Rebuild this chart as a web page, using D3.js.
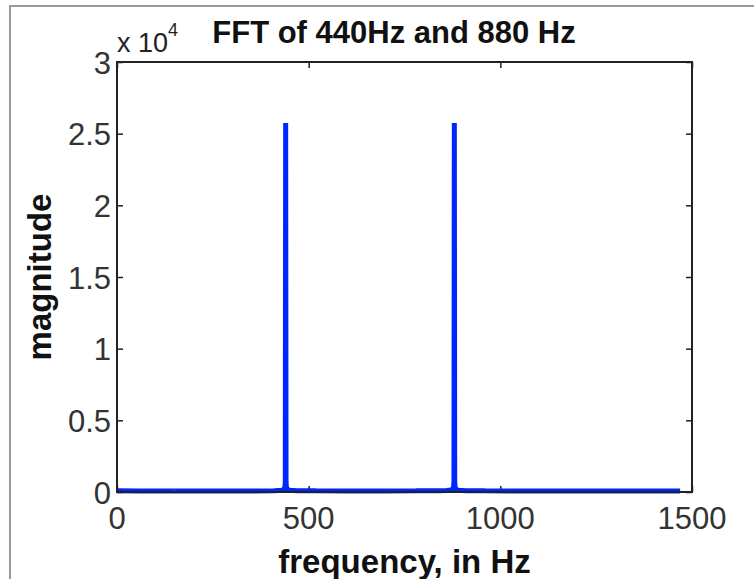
<!DOCTYPE html>
<html>
<head>
<meta charset="utf-8">
<script src="https://cdn.jsdelivr.net/npm/d3@7"></script>
<style>
  html, body { margin: 0; padding: 0; background: #fff; }
  svg { display: block; }
  text { font-family: "Liberation Sans", Arial, Helvetica, sans-serif; fill: #111; }
</style>
</head>
<body>
<svg id="chart" width="754" height="579"></svg>
<script>
// Spectrum samples: frequency (Hz) and FFT magnitude
const freqs = [0, 60, 150, 250, 350, 410, 430, 436, 438, 439, 440, 441, 442, 444, 450, 470,
               520, 600, 700, 780, 840, 860, 870, 876, 878, 879, 880, 881, 882, 884, 890, 910,
               960, 1050, 1150, 1250, 1350, 1420, 1469];
const mags  = [80, 75, 70, 70, 75, 90, 120, 200, 350, 700, 25750, 700, 350, 200, 120, 90,
               80, 75, 75, 80, 90, 110, 140, 200, 350, 700, 25750, 700, 350, 200, 120, 90,
               80, 75, 70, 70, 70, 70, 70];

const xTicks = [0, 500, 1000, 1500];
const yTicks = [0, 5000, 10000, 15000, 20000, 25000, 30000];
const yTickLabels = ["0", "0.5", "1", "1.5", "2", "2.5", "3"];

const titleText = "FFT of 440Hz and 880 Hz";
const xLabel = "frequency, in Hz";
const yLabel = "magnitude";

const svg = d3.select("#chart");

// outer figure frame
svg.append("rect")
  .attr("x", 10).attr("y", 6).attr("width", 900).attr("height", 800)
  .attr("fill", "none").attr("stroke", "#9a9a9a").attr("stroke-width", 2);

const L = 117, R = 692, T = 62, B = 492;

const x = d3.scaleLinear().domain([0, 1500]).range([L, R]);
const y = d3.scaleLinear().domain([0, 30000]).range([B, T]);

const tickLen = 6;

// inward ticks on all four sides
const axes = [
  { g: d3.axisBottom(x).tickValues(xTicks).tickSize(-tickLen).tickFormat(""), t: `translate(0,${B})` },
  { g: d3.axisTop(x).tickValues(xTicks).tickSize(-tickLen).tickFormat(""), t: `translate(0,${T})` },
  { g: d3.axisLeft(y).tickValues(yTicks).tickSize(-tickLen).tickFormat(""), t: `translate(${L},0)` },
  { g: d3.axisRight(y).tickValues(yTicks).tickSize(-tickLen).tickFormat(""), t: `translate(${R},0)` }
];
axes.forEach(a => {
  const g = svg.append("g").attr("transform", a.t).call(a.g);
  g.select(".domain").remove();
  g.selectAll("line").attr("stroke", "#222").attr("stroke-width", 1.5);
});

// spectrum line
const line = d3.line().x((d, i) => x(freqs[i])).y(d => y(d));
svg.append("path")
  .datum(mags)
  .attr("d", line)
  .attr("fill", "none")
  .attr("stroke", "#0026ff")
  .attr("stroke-width", 5)
  .attr("stroke-linejoin", "bevel");

// axes box
svg.append("rect")
  .attr("x", L).attr("y", T).attr("width", R - L).attr("height", B - T)
  .attr("fill", "none").attr("stroke", "#222").attr("stroke-width", 2);

// tick labels
svg.append("g").selectAll("text").data(xTicks).join("text")
  .attr("x", d => x(d)).attr("y", 529)
  .attr("text-anchor", "middle")
  .attr("font-size", 31)
  .style("fill", "#333")
  .text(d => d);

svg.append("g").selectAll("text").data(yTicks).join("text")
  .attr("x", 111).attr("y", d => y(d) + 11.5)
  .attr("text-anchor", "end")
  .attr("font-size", 31)
  .style("fill", "#333")
  .text((d, i) => yTickLabels[i]);

// exponent marker
const expo = svg.append("text").attr("x", 117).attr("y", 52).attr("font-size", 27).style("fill", "#222");
expo.append("tspan").text("x 10");
expo.append("tspan").attr("font-size", 18).attr("dy", -16).text("4");

// title and axis labels
svg.append("text")
  .attr("x", 394).attr("y", 43)
  .attr("text-anchor", "middle")
  .attr("font-size", 31).attr("font-weight", "bold")
  .text(titleText);

svg.append("text")
  .attr("x", (L + R) / 2).attr("y", 573)
  .attr("text-anchor", "middle")
  .attr("font-size", 33).attr("font-weight", "bold")
  .text(xLabel);

svg.append("text")
  .attr("transform", `translate(51,${(T + B) / 2}) rotate(-90)`)
  .attr("text-anchor", "middle")
  .attr("font-size", 33).attr("font-weight", "bold")
  .text(yLabel);
</script>
</body>
</html>
